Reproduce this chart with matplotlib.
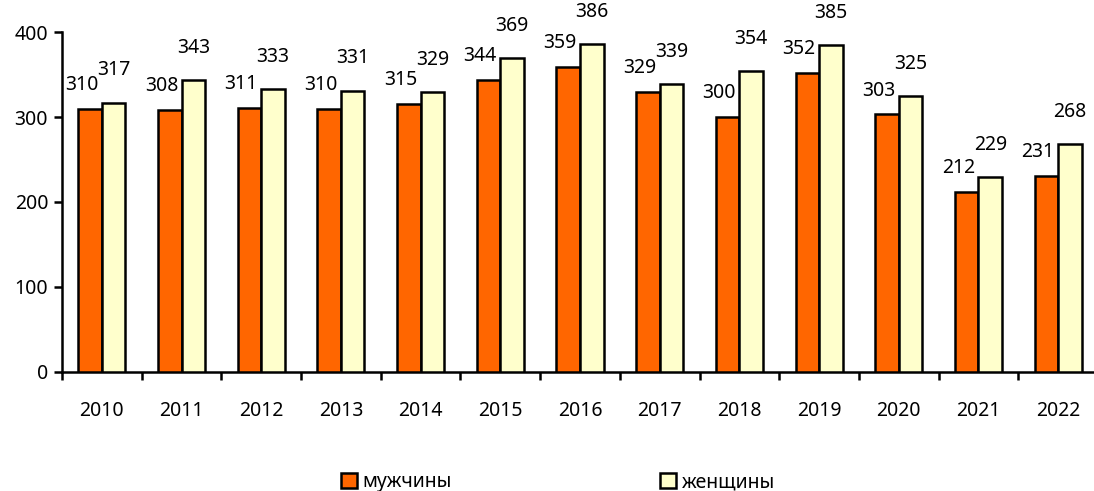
import numpy as np
import matplotlib.pyplot as plt

# data
years = ['2010', '2011', '2012', '2013', '2014', '2015', '2016',
         '2017', '2018', '2019', '2020', '2021', '2022']
men = [310, 308, 311, 310, 315, 344, 359, 329, 300, 352, 303, 212, 231]
women = [317, 343, 333, 331, 329, 369, 386, 339, 354, 385, 325, 229, 268]

plt.rcParams['font.family'] = ['Noto Sans', 'DejaVu Sans']
fs = 14

fig = plt.figure(figsize=(10.94, 4.91), dpi=100)
ax = fig.add_axes([0.0567, 0.2424, 0.9433, 0.6924])

x = np.arange(len(years))
w = 0.295
b1 = ax.bar(x - w / 2, men, w, color='#FF6600', edgecolor='black', linewidth=1.8,
            label='мужчины', zorder=3)
b2 = ax.bar(x + w / 2, women, w, color='#FFFFCC', edgecolor='black', linewidth=1.8,
            label='женщины', zorder=3)

# value labels
for xi, v in zip(x, men):
    ax.annotate(str(v), (xi - w / 2, v), xytext=(-6, 10), textcoords='offset points',
                ha='center', va='bottom', fontsize=fs)
for xi, v in zip(x, women):
    ax.annotate(str(v), (xi + w / 2, v), xytext=(0, 16), textcoords='offset points',
                ha='center', va='bottom', fontsize=fs)

ax.set_ylim(0, 400)
ax.set_xlim(-0.5, 12.45)
ax.set_yticks([0, 100, 200, 300, 400])
ax.set_xticks(x)
ax.set_xticklabels(years)
ax.set_xticks(np.arange(-0.5, 12.5, 1), minor=True)
ax.tick_params(axis='x', which='major', length=0, pad=21, labelsize=fs)
ax.tick_params(axis='x', which='minor', length=6, width=1.8, direction='out')
ax.tick_params(axis='y', length=6, width=1.8, labelsize=fs, pad=4)

for s in ['top', 'right']:
    ax.spines[s].set_visible(False)
for s in ['left', 'bottom']:
    ax.spines[s].set_linewidth(1.8)

fig.legend(handles=[b1, b2], loc='lower center', bbox_to_anchor=(0.51, -0.026),
           ncol=2, frameon=False, fontsize=fs, handlelength=0.8, handleheight=0.8,
           handletextpad=0.3, columnspacing=10.7, borderpad=0.1)

plt.savefig('out.png', dpi=100)
